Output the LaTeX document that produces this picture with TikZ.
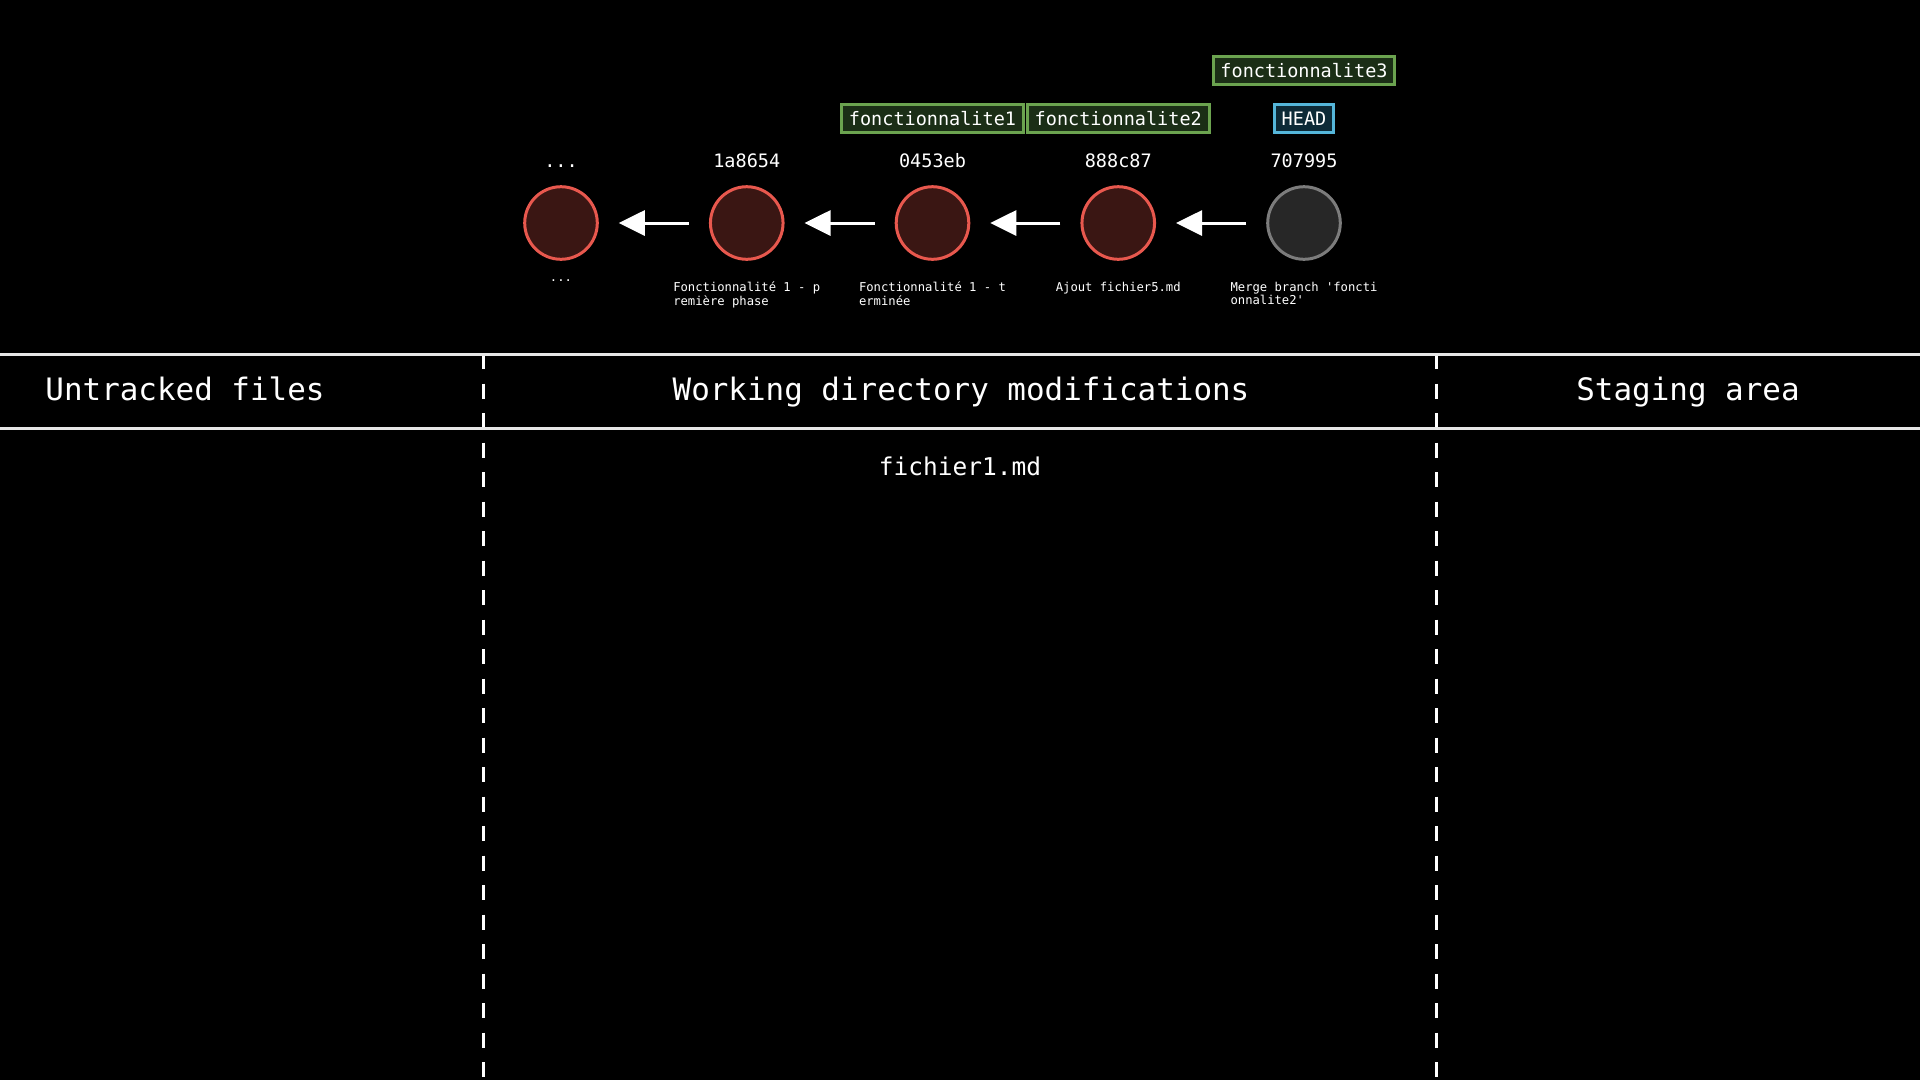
\documentclass[tikz,border=0pt]{standalone}
\usepackage{fontspec}
\setmainfont{DejaVu Sans Mono}
\usetikzlibrary{arrows.meta}
\definecolor{cred}{HTML}{E8584E}
\definecolor{credfill}{HTML}{3A1613}
\definecolor{cgray}{HTML}{7C7C7C}
\definecolor{cgrayfill}{HTML}{272727}
\definecolor{cgreen}{HTML}{6BA34F}
\definecolor{cgreenfill}{HTML}{1B2E16}
\definecolor{cblue}{HTML}{55B6DA}
\definecolor{cbluefill}{HTML}{0D2A37}
\definecolor{cline}{HTML}{E6E6E6}
\begin{document}
\begin{tikzpicture}[x=1pt,y=-1pt,
  commit/.style={circle,draw=cred,fill=credfill,line width=3pt,minimum size=72.6pt,inner sep=0pt},
  headcommit/.style={commit,draw=cgray,fill=cgrayfill},
  hash/.style={anchor=base,text=white,inner sep=0pt,font=\fontsize{18.5}{22}\selectfont},
  msg/.style={anchor=north,align=left,text=white,inner sep=0pt,font=\fontsize{12.2}{13.5}\selectfont},
  branch/.style={draw=cgreen,fill=cgreenfill,line width=3pt,text=white,inner xsep=7.25pt,inner ysep=5.5pt,text height=15.5pt,text depth=1.5pt,font=\fontsize{18.5}{22}\selectfont},
  headref/.style={branch,draw=cblue,fill=cbluefill},
  arr/.style={-{Triangle[length=26pt,width=25pt]},draw=white,line width=3pt},
  header/.style={anchor=base,text=white,inner sep=0pt,font=\fontsize{30.9}{36}\selectfont},
  file/.style={anchor=base,text=white,inner sep=0pt,font=\fontsize{24.5}{30}\selectfont},
  sep/.style={draw=cline,line width=3pt},
  colsep/.style={draw=white,line width=3pt,dash pattern=on 15pt off 14.5pt}
]
\fill[black] (0,0) rectangle (1920,1080);
\useasboundingbox (0,0) rectangle (1920,1080);

% commits
\node[commit] (c1) at (561,223) {};
\node[commit] (c2) at (746.75,223) {};
\node[commit] (c3) at (932.5,223) {};
\node[commit] (c4) at (1118.25,223) {};
\node[headcommit] (c5) at (1304,223) {};

\node[hash] (h1) at (561,167) {...};
\node[hash] (h2) at (746.75,167) {1a8654};
\node[hash] (h3) at (932.5,167) {0453eb};
\node[hash] (h4) at (1118.25,167) {888c87};
\node[hash] (h5) at (1304,167) {707995};

\draw[arr] ([xshift=-20pt]c2.west) -- ([xshift=20pt]c1.east);
\draw[arr] ([xshift=-20pt]c3.west) -- ([xshift=20pt]c2.east);
\draw[arr] ([xshift=-20pt]c4.west) -- ([xshift=20pt]c3.east);
\draw[arr] ([xshift=-20pt]c5.west) -- ([xshift=20pt]c4.east);

% messages
\node[hash,font=\fontsize{12.2}{13.5}\selectfont] (m1) at (561,281) {...};
\node[msg] (m2) at (746.75,282) {Fonctionnalité 1 - p\\remière phase};
\node[msg] (m3) at (932.5,282) {Fonctionnalité 1 - t\\erminée};
\node[msg] (m4) at (1118.25,282) {Ajout fichier5.md};
\node[msg] (m5) at (1304,282) {Merge branch \textquotesingle foncti\\onnalite2\textquotesingle};

% refs
\node[branch] (b1) at (932.5,118.5) {fonctionnalite1};
\node[branch] (b2) at (1118.25,118.5) {fonctionnalite2};
\node[branch] (b3) at (1304,70.5) {fonctionnalite3};
\node[headref] (hd) at (1304,118.5) {HEAD};

% table
\coordinate (tl) at (0,354);
\coordinate (tr) at (1920,354);
\coordinate (bl) at (0,428);
\coordinate (br) at (1920,428);
\coordinate (d1t) at (483.5,354);
\coordinate (d1b) at (483.5,1080);
\coordinate (d2t) at (1436.5,354);
\coordinate (d2b) at (1436.5,1080);
\draw[colsep] (d1t) -- (d1b);
\draw[colsep] (d2t) -- (d2b);
\draw[sep] (tl) -- (tr);
\draw[sep] (bl) -- (br);

\node[header] (u) at (185,400) {Untracked files};
\node[header] (w) at (961,400) {Working directory modifications};
\node[header] (s) at (1688,400) {Staging area};
\node[file] (f1) at (960,475) {fichier1.md};
\end{tikzpicture}
\end{document}
